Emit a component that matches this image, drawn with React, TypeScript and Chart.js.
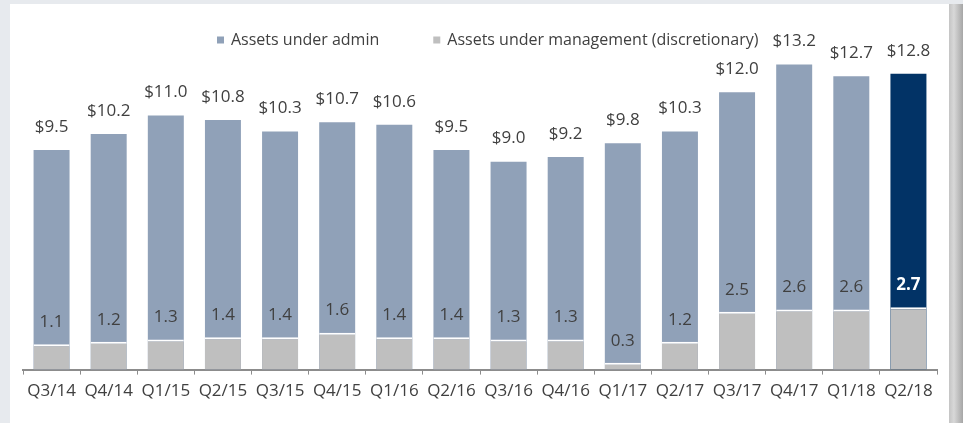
import React, { useEffect, useRef } from "react";
import { Chart, registerables } from "chart.js";

Chart.register(...registerables);

const categories = [
  "Q3/14", "Q4/14", "Q1/15", "Q2/15", "Q3/15", "Q4/15", "Q1/16", "Q2/16",
  "Q3/16", "Q4/16", "Q1/17", "Q2/17", "Q3/17", "Q4/17", "Q1/18", "Q2/18",
];
const assetsUnderAdmin = [9.5, 10.2, 11.0, 10.8, 10.3, 10.7, 10.6, 9.5, 9.0, 9.2, 9.8, 10.3, 12.0, 13.2, 12.7, 12.8];
const assetsUnderManagement = [1.1, 1.2, 1.3, 1.4, 1.4, 1.6, 1.4, 1.4, 1.3, 1.3, 0.3, 1.2, 2.5, 2.6, 2.6, 2.7];
const seriesNames = ["Assets under admin", "Assets under management (discretionary)"];

const ADMIN = "#90a1b8";
const NAVY = "#023366";
const GRAY = "#bfbfbf";
const TEXT = "#404040";
const FONT = '"Open Sans", "Noto Sans", sans-serif';

const labelPlugin = {
  id: "valueLabels",
  afterDatasetsDraw(chart: any) {
    const ctx = chart.ctx as CanvasRenderingContext2D;
    const adminMeta = chart.getDatasetMeta(0);
    const aumMeta = chart.getDatasetMeta(1);
    const n = categories.length;
    ctx.save();
    ctx.textAlign = "center";
    ctx.textBaseline = "middle";
    adminMeta.data.forEach((bar: any, i: number) => {
      ctx.font = `17px ${FONT}`;
      ctx.fillStyle = TEXT;
      ctx.fillText("$" + assetsUnderAdmin[i].toFixed(1), bar.x, bar.y - 23);
    });
    aumMeta.data.forEach((bar: any, i: number) => {
      const last = i === n - 1;
      ctx.font = last ? `bold 17px ${FONT}` : `17px ${FONT}`;
      ctx.fillStyle = last ? "#ffffff" : TEXT;
      ctx.fillText(assetsUnderManagement[i].toFixed(1), bar.x, bar.y - 22);
    });

    // legend
    ctx.font = `16px ${FONT}`;
    ctx.textAlign = "left";
    const y = 36;
    let x = 207;
    const colors = [ADMIN, GRAY];
    seriesNames.forEach((name, i) => {
      ctx.fillStyle = colors[i];
      ctx.fillRect(x, y - 3.5, 7, 7);
      ctx.fillStyle = TEXT;
      ctx.fillText(name, x + 14, y);
      x += 14 + ctx.measureText(name).width + 54;
    });
    ctx.restore();
  },
};

export default function App() {
  const ref = useRef<HTMLCanvasElement>(null);

  useEffect(() => {
    if (!ref.current) return;
    const n = categories.length;
    const chart = new Chart(ref.current, {
      type: "bar",
      data: {
        labels: categories,
        datasets: [
          {
            label: seriesNames[0],
            data: assetsUnderAdmin,
            backgroundColor: assetsUnderAdmin.map((_, i) => (i === n - 1 ? NAVY : ADMIN)),
            borderWidth: 0,
            order: 1,
            barPercentage: 0.63,
            categoryPercentage: 1,
          },
          {
            label: seriesNames[1],
            data: assetsUnderManagement,
            backgroundColor: GRAY,
            borderColor: "#ffffff",
            borderWidth: { top: 2, left: 0, right: 0, bottom: 0 },
            borderSkipped: "start",
            order: 0,
            barPercentage: 0.63,
            categoryPercentage: 1,
          },
        ],
      },
      options: {
        animation: false,
        responsive: true,
        maintainAspectRatio: false,
        layout: { padding: { left: 13, right: 12, top: 19, bottom: 16 } },
        plugins: {
          legend: { display: false },
          tooltip: { enabled: false },
        },
        scales: {
          x: {
            stacked: true,
            grid: {
              display: true,
              drawOnChartArea: false,
              drawTicks: true,
              tickLength: 5,
              color: "#8c8c8c",
              lineWidth: 1,
              offset: true,
            },
            border: { display: true, color: "#8c8c8c", width: 2 },
            ticks: {
              color: TEXT,
              font: { family: FONT, size: 17 },
              padding: 6,
              maxRotation: 0,
              autoSkip: false,
            },
          },
          y: { stacked: false, display: false, min: 0, max: 15 },
        },
      },
      plugins: [labelPlugin],
    });
    return () => chart.destroy();
  }, []);

  return (
    <div style={{ position: "fixed", inset: 0, background: "#e7eaee" }}>
      <div
        style={{
          position: "absolute",
          left: 10,
          top: 4,
          width: 939,
          height: 419,
          background: "#ffffff",
        }}
      >
        <canvas ref={ref} />
      </div>
      <div
        style={{
          position: "absolute",
          left: 949,
          top: 4,
          width: 14,
          height: 419,
          background: "linear-gradient(to right, #c4c4c4, #d8d8d8 35%, #a6a6a6)",
        }}
      />
    </div>
  );
}
